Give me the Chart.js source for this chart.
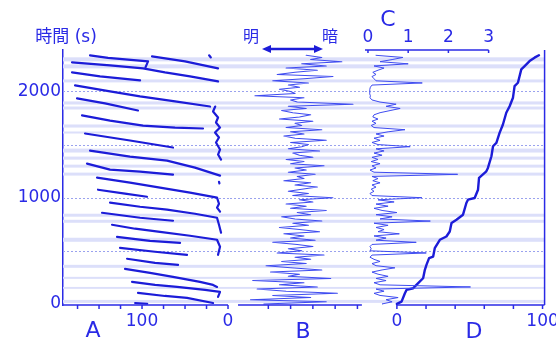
<!DOCTYPE html>
<html><head><meta charset="utf-8">
<script src="https://cdn.jsdelivr.net/npm/chart.js@4"></script>
<style>
html,body{margin:0;padding:0;background:#fff;overflow:hidden;width:556px;height:343px}
#wrap{position:relative;width:556px;height:343px}
canvas{position:absolute;top:0}
.lbl{position:absolute;color:#2a2ae6;font-family:'DejaVu Sans','Noto Sans CJK JP',sans-serif;transform:translate(-50%,-50%);white-space:nowrap;line-height:1}
</style></head><body><div id="wrap">
<canvas id="cA" width="240" height="343" style="left:0px"></canvas>
<canvas id="cB" width="155" height="343" style="left:220px"></canvas>
<canvas id="cCD" width="210" height="343" style="left:355px"></canvas>
<div class="lbl" style="left:66px;top:36px;font-size:17px">時間 (s)</div>
<div class="lbl" style="left:251px;top:35px;font-size:16px;font-family:'Noto Sans CJK JP',sans-serif">明</div>
<div class="lbl" style="left:330px;top:35px;font-size:16px;font-family:'Noto Sans CJK JP',sans-serif">暗</div>
<svg style="position:absolute;left:260px;top:43px" width="66" height="12">
<line x1="9" y1="6" x2="57" y2="6" stroke="#1c1cd8" stroke-width="2.5"/>
<polygon points="2,6 11,2 11,10" fill="#1c1cd8"/><polygon points="63,6 54,2 54,10" fill="#1c1cd8"/>
</svg>
<div class="lbl" style="left:388px;top:19px;font-size:22px">C</div>
<div class="lbl" style="left:93px;top:330px;font-size:22px">A</div>
<div class="lbl" style="left:303px;top:331px;font-size:22px">B</div>
<div class="lbl" style="left:474px;top:331px;font-size:22px">D</div>
</div>
<script>
const BLUE='#2a2ae6', TRACE='#1c1cd8', THIN='#3f4cf0', STRIPE='#dcdffa', DOT='#9aa2ee';

// time axis
const timeTicks=[0,1000,2000];
const dottedTimes=[500,1000,1500,2000];
const bands=[[10,38],[142,160],[236,255],[340,368],[585,623],[764,792],[821,849],[1208,1236],[1283,1311],[1358,1387],[1425,1462],[1604,1623],[1660,1689],[1830,1858],[1877,1906],[2085,2113],[2217,2255],[2283,2321]];

// panel A : tracks as [A value, time]
const tracksA=[
 [[160.5,2340],[139.5,2316],[93,2283],[96,2226]],
 [[181.4,2274],[137.2,2245],[98.8,2217],[73.3,2179],[44.2,2142],[11.6,2094]],
 [[88.4,2330],[50,2283],[11.6,2217]],
 [[22,2340],[20,2320]],
 [[181.4,2179],[148.8,2142],[102.3,2104]],
 [[177.9,2057],[137.2,2000],[102.3,1953],[61.6,1906],[20.9,1858]],
 [[175.6,1934],[143,1887],[104.7,1821]],
 [[169.8,1774],[137.2,1726],[98.8,1679],[61.6,1660],[29.1,1651]],
 [[166.3,1604],[114,1538],[64,1472]],
 [[160.5,1443],[114,1387],[70.9,1349],[38.4,1283],[9.3,1208]],
 [[164,1321],[137.2,1264],[102.3,1245],[64,1217]],
 [[10.5,1150],[10,1135]],
 [[152.3,1189],[114,1142],[79.1,1094],[44.2,1047],[12.8,1000],[10.5,943],[12.8,906],[9.3,868]],
 [[151.2,1075],[119.8,1038],[94.2,1009]],
 [[137.2,953],[102.3,915],[70.9,887],[38.4,849],[12.8,811],[10.5,745],[8.1,670]],
 [[146.5,858],[102.3,811],[64,783]],
 [[134.9,745],[108.1,708],[79.1,679],[44.2,642],[12.8,604],[9.3,538],[11.6,462]],
 [[129.1,632],[90.7,594],[55.8,575]],
 [[125.6,528],[84.9,491],[47.7,462]],
 [[117.4,425],[84.9,387],[58.1,368]],
 [[119.8,330],[90.7,292],[64,255],[32.6,208],[17.4,179],[12.8,160]],
 [[111.6,208],[84.9,179],[59.3,160],[26.7,132],[9.3,113],[11.6,66]],
 [[104.7,104],[73.3,75],[47.7,57],[17.4,9]],
 [[108,9],[94,2]],
 [[14.9,1858],[17.4,1811],[11.6,1755],[14,1708],[9.3,1660],[15.1,1613],[10.5,1566],[14,1519],[9.3,1453],[11.6,1406],[8.1,1358]]
];
const ticksA=[0,25,50,75,100,125,150,175];

// panels B and C sampled every 20 s
const timesBC=Array.from({length:118},(_,i)=>i*20);
const bValues=[
 0.8,3.6,0.2,2.9,1.2,4.1,1.8,0.5,3.2,1.5,2.6,0.3,3.8,1.9,2.4,1.1,3.4,2.0,0.9,2.7,
 1.6,2.9,2.2,3.5,1.4,2.5,1.9,3.0,2.3,1.2,3.1,2.0,2.6,1.7,3.3,2.4,1.5,2.8,2.1,3.4,
 2.2,1.6,2.9,2.3,3.6,2.0,2.7,1.8,3.0,2.4,3.9,2.1,2.8,1.9,2.5,3.2,2.2,2.9,1.7,2.6,
 2.3,3.1,1.9,2.7,2.2,3.5,2.0,2.6,1.8,3.0,2.4,2.1,3.3,1.9,2.5,2.8,2.0,3.6,2.2,1.7,
 2.6,2.0,3.4,1.8,2.5,2.2,3.0,1.5,2.4,2.9,2.1,1.6,2.7,1.9,4.8,2.3,2.0,2.6,0.4,2.2,
 2.0,1.5,2.4,1.9,2.8,1.2,2.6,3.9,1.4,2.2,3.2,1.8,3.6,2.5,4.3,2.9,3.4,2.7];
const ticksB=[1,2,3,4,5];
const cValues=[
 0.35,0.6,0.45,0.75,0.3,0.15,0.4,0.2,2.55,0.3,0.15,0.45,0.2,0.5,0.25,0.1,0.35,0.67,0.2,0.1,
 0.3,0.15,0.05,0.1,1.45,0.05,0.08,0.05,0.1,1.2,0.2,0.45,0.15,0.78,0.25,0.4,0.2,0.5,0.15,1.55,
 0.3,0.6,0.2,0.72,0.35,0.15,0.5,0.2,0.65,0.25,1.34,0.1,0.05,0.15,0.08,0.2,0.1,0.3,0.12,0.25,
 0.1,2.23,0.15,0.05,0.2,0.1,0.3,0.08,0.25,0.1,0.35,0.15,0.4,0.2,1.05,0.25,0.1,0.3,0.15,0.4,
 0.2,0.5,0.92,0.15,0.08,0.2,0.1,0.25,0.12,0.15,0.3,0.55,0.8,0.45,0.7,0.3,0.1,0.05,0.06,0.04,
 0.05,0.04,0.06,0.1,1.35,0.2,0.15,0.1,0.2,0.12,0.25,0.4,0.15,1.0,0.3,0.6,0.87,0.2];
const ticksC=[0,1,2,3];

// panel D
const dTime=[0,22,101,132,148,195,242,321,368,431,446,525,604,635,682,761,792,840,950,981,997,1075,1186,1248,1280,1390,1484,1516,1610,1689,1799,1861,1941,2050,2082,2208,2239,2286,2318,2340];
const dValue=[0,3.2,5.5,6.6,11.2,14.6,18.0,19.2,20.3,22.1,24.9,26.0,29.5,34.0,36.3,37.5,40.9,45.4,47.7,48.8,53.4,55.7,56.4,61.4,62.5,64.9,66.0,68.3,70.5,72.8,75.1,77.4,79.7,80.8,83.1,85.4,87.7,91.1,94.5,97.5];
const ticksD=[0,20,40,60,80,100];

Chart.defaults.font.family="'DejaVu Sans', sans-serif";
Chart.defaults.font.size=17;
Chart.defaults.color=BLUE;

const deco={id:'deco',
 beforeDatasetsDraw(chart,a,o){
  const {ctx,chartArea:ca}=chart, y=chart.scales.y;
  ctx.save(); ctx.fillStyle=STRIPE;
  bands.forEach(([t0,t1])=>{const p0=y.getPixelForValue(t0),p1=y.getPixelForValue(t1);ctx.fillRect(ca.left,p1,ca.right-ca.left,p0-p1);});
  ctx.strokeStyle=DOT;ctx.lineWidth=1;ctx.setLineDash([2,2]);
  dottedTimes.forEach(t=>{const p=Math.round(y.getPixelForValue(t))+0.5;ctx.beginPath();ctx.moveTo(ca.left,p);ctx.lineTo(ca.right,p);ctx.stroke();});
  ctx.restore();
 },
 afterDraw(chart,a,o){
  const {ctx,chartArea:ca}=chart;
  ctx.save();ctx.strokeStyle=BLUE;ctx.lineWidth=1.5;
  (o.axes||[]).forEach(ax=>{const s=chart.scales[ax.id];const yy=ax.edge==='top'?ca.top:ca.bottom;
   ctx.beginPath();ctx.moveTo(s.getPixelForValue(ax.from),yy);ctx.lineTo(s.getPixelForValue(ax.to),yy);ctx.stroke();
   s.ticks.forEach(t=>{const px=s.getPixelForValue(t.value);ctx.beginPath();ctx.moveTo(px,yy);ctx.lineTo(px,yy+ax.dir*ax.len);ctx.stroke();});
  });
  if(o.right){ctx.beginPath();ctx.moveTo(ca.right,ca.top);ctx.lineTo(ca.right,ca.bottom);ctx.stroke();}
  ctx.restore();
 }};
Chart.register(deco);

const noGrid={display:false,drawTicks:false};
const yHidden={type:'linear',min:-10,max:2390,display:false};
const base={responsive:false,animation:false,events:[],plugins:{legend:{display:false},tooltip:{enabled:false}}};
const line=(data,w,c,axis)=>Object.assign({data,borderColor:c,borderWidth:w,pointRadius:0,fill:false,tension:0,borderJoinStyle:'round',borderCapStyle:'round'},axis?{xAxisID:axis}:{});

new Chart(document.getElementById('cA'),{type:'line',
 data:{datasets:tracksA.map(tr=>line(tr.map(([a,t])=>({x:a,y:t})),2.2,TRACE))},
 options:Object.assign({},base,{layout:{padding:{top:50,right:10,left:0,bottom:0}},
  plugins:Object.assign({},base.plugins,{deco:{axes:[{id:'x',edge:'bottom',from:191.9,to:0,dir:1,len:4}]}}),
  scales:{
   x:{type:'linear',reverse:true,min:-2.3,max:191.9,grid:noGrid,border:{display:false},
      afterBuildTicks:s=>{s.ticks=ticksA.map(v=>({value:v}));},
      afterFit:s=>{s.height=38;},
      ticks:{padding:6,autoSkip:false,maxRotation:0,callback:v=>(v===0||v===100)?String(v):''}},
   y:{type:'linear',min:-10,max:2390,grid:noGrid,border:{display:true,color:BLUE,width:1.5},
      afterBuildTicks:s=>{s.ticks=timeTicks.map(v=>({value:v}));},
      afterFit:s=>{s.width=63;},
      ticks:{padding:2,callback:v=>String(v)}}
  }})});

new Chart(document.getElementById('cB'),{type:'line',
 data:{datasets:[line(timesBC.map((t,i)=>({x:bValues[i],y:t})),1.1,THIN)]},
 options:Object.assign({},base,{layout:{padding:{top:50,right:10,left:10,bottom:0}},
  plugins:Object.assign({},base.plugins,{deco:{axes:[{id:'x',edge:'bottom',from:-0.36,to:5.2,dir:1,len:4}]}}),
  scales:{
   x:{type:'linear',min:-0.72,max:5.34,grid:noGrid,border:{display:false},
      afterBuildTicks:s=>{s.ticks=ticksB.map(v=>({value:v}));},
      afterFit:s=>{s.height=38;},
      ticks:{padding:6,autoSkip:false,maxRotation:0,callback:()=>''}},
   y:yHidden
  }})});

new Chart(document.getElementById('cCD'),{type:'line',
 data:{datasets:[
   line(timesBC.map((t,i)=>({x:cValues[i],y:t})),1,THIN,'xC'),
   line(dTime.map((t,i)=>({x:dValue[i],y:t})),2.4,TRACE,'xD')]},
 options:Object.assign({},base,{layout:{padding:{top:0,right:20,left:10,bottom:0}},
  plugins:Object.assign({},base.plugins,{deco:{right:true,axes:[
    {id:'xC',edge:'top',from:-0.074,to:3,dir:1,len:3},
    {id:'xD',edge:'bottom',from:0,to:101.4,dir:1,len:4}]}}),
  scales:{
   xC:{type:'linear',position:'top',min:-0.074,max:4.392,grid:noGrid,border:{display:false},
      afterBuildTicks:s=>{s.ticks=ticksC.map(v=>({value:v}));},
      afterFit:s=>{s.height=50;},
      ticks:{padding:2,autoSkip:false,maxRotation:0,callback:v=>String(v)}},
   xD:{type:'linear',position:'bottom',min:-21.9,max:101.4,grid:noGrid,border:{display:false},
      afterBuildTicks:s=>{s.ticks=ticksD.map(v=>({value:v}));},
      afterFit:s=>{s.height=38;},
      ticks:{padding:6,autoSkip:false,maxRotation:0,callback:v=>(v===0||v===100)?String(v):''}},
   y:yHidden
  }})});
</script></body></html>
